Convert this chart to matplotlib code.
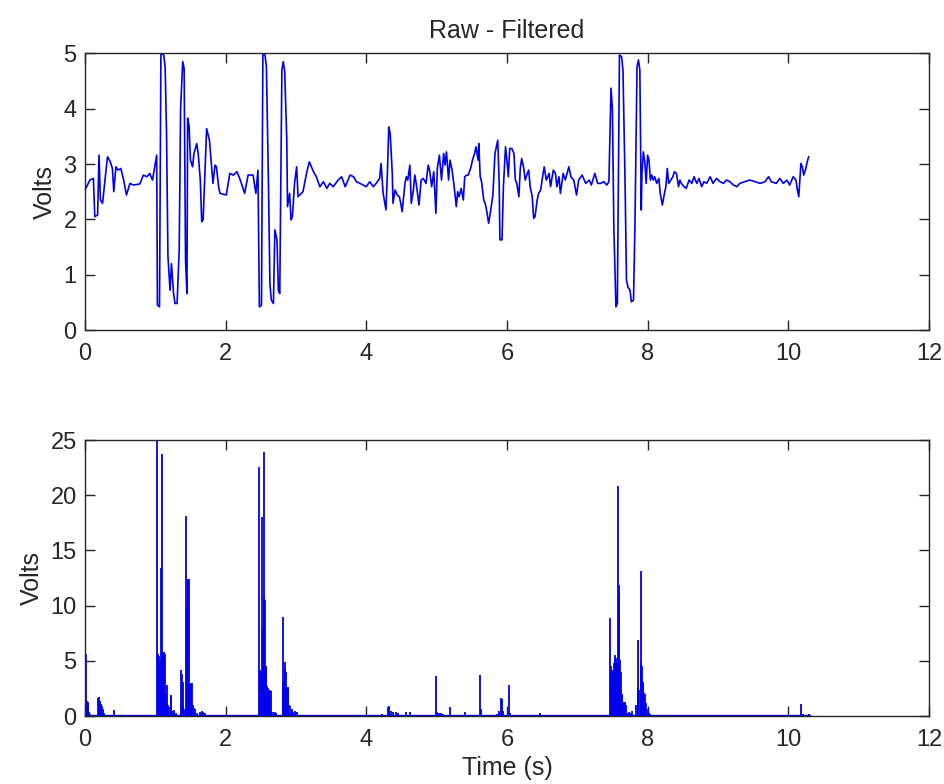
import matplotlib
matplotlib.use("Agg")
import matplotlib.pyplot as plt

plt.rcParams['font.family'] = ['Liberation Sans', 'DejaVu Sans']

# ---- Top panel: raw signal (time s, volts) ----
raw_t = [0.00, 0.07, 0.12, 0.14, 0.18, 0.20, 0.22, 0.25, 0.28, 0.32, 0.36, 0.39, 0.41, 0.44, 0.47,
         0.51, 0.55, 0.59, 0.64, 0.69, 0.78, 0.83, 0.88, 0.92, 0.96, 1.00, 1.02, 1.03, 1.06, 1.08,
         1.12, 1.14, 1.16, 1.18, 1.21, 1.23, 1.26, 1.28, 1.31, 1.34, 1.36, 1.39, 1.41, 1.43, 1.45,
         1.46, 1.48, 1.50, 1.53, 1.55, 1.59, 1.61, 1.64, 1.66, 1.68, 1.71, 1.73, 1.77, 1.80, 1.82,
         1.85, 1.87, 1.90, 1.92, 2.01, 2.06, 2.11, 2.16, 2.20, 2.24, 2.27, 2.32, 2.39, 2.43, 2.46,
         2.48, 2.51, 2.53, 2.56, 2.58, 2.61, 2.63, 2.65, 2.68, 2.70, 2.73, 2.75, 2.77, 2.80, 2.82,
         2.84, 2.87, 2.88, 2.91, 2.93, 2.95, 2.98, 3.01, 3.03, 3.10, 3.15, 3.19, 3.25, 3.29, 3.34,
         3.39, 3.44, 3.48, 3.53, 3.60, 3.65, 3.70, 3.77, 3.82, 3.86, 3.91,
         4.00, 4.05, 4.10, 4.14, 4.19, 4.21, 4.24, 4.28, 4.30, 4.32, 4.34, 4.37, 4.38, 4.41, 4.44,
         4.47, 4.49, 4.51, 4.55, 4.57, 4.59, 4.62, 4.64, 4.67, 4.69, 4.71, 4.75, 4.78, 4.81, 4.85,
         4.88, 4.90, 4.93, 4.96, 4.99, 5.01, 5.04, 5.07, 5.10, 5.12, 5.14, 5.17, 5.19, 5.22, 5.25,
         5.28, 5.30, 5.32, 5.35, 5.38, 5.40, 5.43, 5.45, 5.49, 5.51, 5.54, 5.56, 5.59, 5.60, 5.62,
         5.64, 5.67, 5.69, 5.71, 5.74, 5.77, 5.80, 5.83, 5.87, 5.89, 5.90, 5.93, 5.95, 5.98, 6.00,
         6.02, 6.04, 6.07, 6.10, 6.12, 6.14, 6.17, 6.19, 6.21, 6.24, 6.26, 6.29, 6.31, 6.33, 6.36,
         6.38, 6.40, 6.43, 6.45, 6.48, 6.50, 6.53, 6.56, 6.60, 6.62, 6.66, 6.69, 6.71, 6.74, 6.76,
         6.80, 6.83, 6.88, 6.91, 6.95, 6.99, 7.02, 7.07, 7.12, 7.17, 7.20, 7.25, 7.29, 7.33, 7.38,
         7.42, 7.45, 7.48, 7.50, 7.52, 7.55, 7.57, 7.60, 7.63, 7.65, 7.68, 7.70, 7.72, 7.75, 7.77,
         7.80, 7.82, 7.85, 7.87, 7.89, 7.91, 7.92, 7.94, 7.96, 7.98, 8.00, 8.02, 8.04, 8.06, 8.08,
         8.10, 8.13, 8.16, 8.18, 8.21, 8.24, 8.26, 8.28, 8.30, 8.33, 8.36, 8.38, 8.41, 8.44, 8.46,
         8.48, 8.52, 8.55, 8.59, 8.63, 8.66, 8.70, 8.73, 8.77, 8.80, 8.84, 8.89, 8.93, 8.98, 9.03,
         9.08, 9.12, 9.17, 9.22, 9.27, 9.31, 9.38, 9.45, 9.53, 9.60, 9.67, 9.72, 9.76, 9.83, 9.88,
         9.93, 9.98, 10.02, 10.07, 10.11, 10.13, 10.15, 10.18, 10.20, 10.22, 10.25, 10.27, 10.29]
raw_v = [2.53, 2.71, 2.74, 2.05, 2.08, 3.16, 2.35, 2.29, 2.65, 3.13, 3.04, 2.92, 2.50, 2.95, 2.89,
         2.92, 2.71, 2.44, 2.65, 2.62, 2.64, 2.80, 2.77, 2.83, 2.71, 3.01, 3.16, 0.45, 0.42, 5.00,
         4.97, 4.76, 3.55, 1.33, 0.72, 1.20, 0.66, 0.48, 0.48, 1.45, 4.01, 4.85, 4.73, 1.27, 0.66,
         3.83, 3.70, 3.07, 2.95, 3.19, 3.37, 3.19, 2.71, 1.96, 1.99, 3.01, 3.64, 3.43, 2.95, 2.65,
         2.98, 2.95, 2.59, 2.47, 2.44, 2.83, 2.80, 2.86, 2.74, 2.59, 2.47, 2.80, 2.80, 2.47, 2.89,
         0.42, 0.45, 5.00, 4.97, 4.76, 2.59, 0.84, 0.54, 0.48, 1.81, 1.63, 0.72, 0.66, 4.70, 4.85,
         4.67, 3.43, 2.23, 2.47, 1.99, 2.05, 2.65, 2.95, 2.41, 2.50, 2.83, 3.04, 2.86, 2.77, 2.59,
         2.68, 2.56, 2.65, 2.59, 2.71, 2.77, 2.59, 2.80, 2.77, 2.68, 2.65,
         2.59, 2.68, 2.59, 2.65, 2.74, 3.01, 2.47, 2.17, 2.83, 3.67, 3.55, 2.83, 2.29, 2.53, 2.44,
         2.41, 2.29, 2.14, 2.65, 2.77, 2.71, 2.98, 2.29, 2.53, 2.80, 2.65, 2.26, 2.71, 2.74, 2.65,
         2.98, 2.89, 2.59, 2.86, 2.11, 2.92, 3.16, 2.71, 3.19, 2.98, 3.22, 2.71, 3.07, 2.89, 2.59,
         2.23, 2.50, 2.41, 2.56, 2.35, 2.77, 2.80, 2.80, 2.95, 3.07, 3.19, 3.31, 3.07, 3.37, 2.77,
         2.68, 2.35, 2.29, 2.17, 1.93, 2.17, 2.44, 3.19, 3.43, 2.65, 1.63, 1.63, 2.59, 3.31, 3.07,
         2.77, 3.28, 3.28, 3.19, 2.71, 2.65, 2.41, 2.92, 3.10, 2.92, 2.71, 2.83, 2.89, 2.59, 2.41,
         2.02, 2.05, 2.35, 2.47, 2.53, 2.71, 2.95, 2.71, 2.83, 2.59, 2.89, 2.83, 2.59, 2.77, 2.47,
         2.83, 2.71, 2.95, 2.77, 2.71, 2.44, 2.71, 2.80, 2.65, 2.71, 2.62, 2.83, 2.65, 2.65, 2.68,
         2.62, 2.68, 4.37, 3.98, 1.87, 0.42, 0.48, 4.97, 4.94, 4.70, 2.65, 0.90, 0.78, 0.72, 0.51,
         0.54, 1.87, 4.76, 4.88, 4.70, 2.17, 2.83, 3.22, 3.04, 2.65, 3.16, 3.07, 2.71, 2.80, 2.71,
         2.77, 2.65, 2.74, 2.47, 2.26, 2.47, 2.59, 2.92, 2.65, 2.71, 2.77, 2.86, 2.83, 2.59, 2.71,
         2.65, 2.59, 2.56, 2.71, 2.65, 2.77, 2.65, 2.74, 2.59, 2.68, 2.65, 2.77, 2.65, 2.74, 2.68,
         2.65, 2.71, 2.68, 2.62, 2.59, 2.65, 2.68, 2.71, 2.68, 2.65, 2.68, 2.77, 2.68, 2.65, 2.74,
         2.65, 2.71, 2.62, 2.77, 2.71, 2.53, 2.41, 3.01, 2.95, 2.80, 2.92, 3.04, 3.13]

# ---- Bottom panel: filtered spikes (time s, volts) ----
filt_t = [0.00, 0.01, 0.015, 0.02, 0.03, 0.04, 0.05, 0.06, 0.07,
          0.19, 0.20, 0.21, 0.22, 0.23, 0.24, 0.25, 0.27, 0.41,
          1.03, 1.035, 1.04, 1.05, 1.06, 1.07, 1.08, 1.09, 1.10, 1.11, 1.12, 1.13, 1.14, 1.15,
          1.16, 1.18, 1.20, 1.22, 1.23, 1.25, 1.27, 1.29,
          1.37, 1.38, 1.39, 1.40, 1.42, 1.43, 1.44, 1.45, 1.46, 1.47, 1.48, 1.49, 1.50, 1.51,
          1.52, 1.53, 1.55, 1.57, 1.60, 1.64, 1.66, 1.68, 1.70,
          2.48, 2.485, 2.49, 2.50, 2.51, 2.52, 2.53, 2.54, 2.55, 2.56, 2.57, 2.58, 2.59, 2.60,
          2.61, 2.62, 2.63, 2.64, 2.65, 2.67, 2.70, 2.72,
          2.81, 2.82, 2.83, 2.84, 2.85, 2.86, 2.87, 2.88, 2.89, 2.90, 2.92, 2.94, 2.96, 2.98,
          3.00, 3.02,
          4.22, 4.31, 4.33, 4.35, 4.38, 4.42, 4.45, 4.57, 4.62,
          4.99, 5.01, 5.03, 5.06, 5.09, 5.19, 5.30, 5.40, 5.58, 5.61, 5.63, 5.80, 5.86, 5.89,
          5.91, 5.93, 5.95, 6.03, 6.05, 6.35, 6.47,
          7.47, 7.48, 7.49, 7.50, 7.51, 7.52, 7.53, 7.54, 7.55, 7.56, 7.58, 7.59, 7.60, 7.61,
          7.62, 7.63, 7.64, 7.65, 7.66, 7.68, 7.69, 7.71, 7.73, 7.75, 7.78,
          7.84, 7.86, 7.87, 7.88, 7.90, 7.91, 7.92, 7.93, 7.94, 7.95, 7.96, 7.98, 8.00, 8.02, 8.04,
          8.32, 10.18, 10.21, 10.29]
filt_v = [5.7, 5.6, 1.5, 1.3, 1.4, 1.2, 1.3, 0.4, 0.2,
          1.6, 1.75, 1.4, 1.0, 1.1, 0.9, 0.6, 0.3, 0.55,
          24.9, 5.5, 5.6, 5.4, 2.8, 5.0, 13.4, 5.7, 23.7, 5.8, 5.8, 5.7, 5.6, 2.0,
          2.8, 1.0, 0.85, 1.9, 1.8, 0.5, 0.55, 0.3,
          4.2, 3.8, 3.1, 0.8, 0.6, 0.7, 18.1, 10.0, 12.4, 12.2, 12.4, 3.0, 3.0, 2.9,
          3.0, 1.0, 0.7, 0.6, 0.3, 0.4, 0.5, 0.4, 0.3,
          22.6, 4.0, 4.2, 3.8, 4.0, 18.0, 7.8, 23.9, 10.7, 10.5, 4.5, 4.4, 2.7, 2.5,
          2.3, 2.4, 2.4, 2.3, 0.5, 0.4, 0.4, 0.3,
          9.0, 3.1, 3.2, 4.9, 4.3, 4.0, 2.5, 2.6, 2.5, 1.0, 0.9, 0.6, 0.4, 0.5,
          0.3, 0.4,
          0.2, 0.85, 0.9, 0.5, 0.4, 0.4, 0.3, 0.4, 0.4,
          3.6, 0.4, 0.3, 0.3, 0.2, 0.8, 0.1, 0.4, 0.1, 3.7, 0.6, 0.1, 0.2, 0.5,
          1.6, 1.5, 0.5, 2.8, 0.3, 0.1, 0.3,
          8.9, 4.5, 4.2, 3.7, 4.0, 4.8, 5.1, 5.5, 5.3, 4.9, 20.8, 11.0, 11.9, 5.1,
          4.0, 1.8, 2.0, 1.3, 1.3, 1.3, 1.0, 0.3, 0.4, 0.3, 0.5,
          1.0, 6.9, 2.5, 2.4, 13.1, 4.8, 4.5, 3.0, 3.1, 2.1, 2.0, 1.2, 0.6, 0.3, 0.2,
          0.1, 1.1, 0.2, 0.2]
t_end = 10.29

top_yticks = [0, 1, 2, 3, 4, 5]
bot_yticks = [0, 5, 10, 15, 20, 25]
xticks = [0, 2, 4, 6, 8, 10, 12]

BLUE = '#0000ee'
INK = '#262626'

fig = plt.figure(figsize=(9.44, 7.84), dpi=100)
ax1 = fig.add_axes([0.090, 0.579, 0.894, 0.353])
ax2 = fig.add_axes([0.090, 0.0867, 0.894, 0.352])

ax1.plot(raw_t, raw_v, color=BLUE, linewidth=1.2)
ax1.set_xlim(0, 12)
ax1.set_ylim(0, 5)
ax1.set_yticks(top_yticks)
ax1.set_ylabel('Volts', fontsize=18, labelpad=5, color=INK)
ax1.set_title('Raw - Filtered', fontsize=18, pad=11, color=INK)

ax2.vlines(filt_t, 0, filt_v, color=BLUE, linewidth=1.3)
ax2.plot([0, t_end], [0, 0], color=BLUE, linewidth=2.4)
ax2.set_xlim(0, 12)
ax2.set_ylim(0, 25)
ax2.set_yticks(bot_yticks)
ax2.set_ylabel('Volts', fontsize=18, labelpad=5, color=INK)
ax2.set_xlabel('Time (s)', fontsize=18, labelpad=4, color=INK)

for ax in (ax1, ax2):
    ax.set_xticks(xticks)
    ax.tick_params(axis='x', pad=9)
    ax.tick_params(axis='y', pad=6)
    ax.tick_params(direction='in', length=7, width=1, labelsize=17,
                   top=True, right=True, colors=INK)
    for s in ax.spines.values():
        s.set_linewidth(1.0)
        s.set_color(INK)

fig.savefig('out.png', dpi=100, facecolor='white')
